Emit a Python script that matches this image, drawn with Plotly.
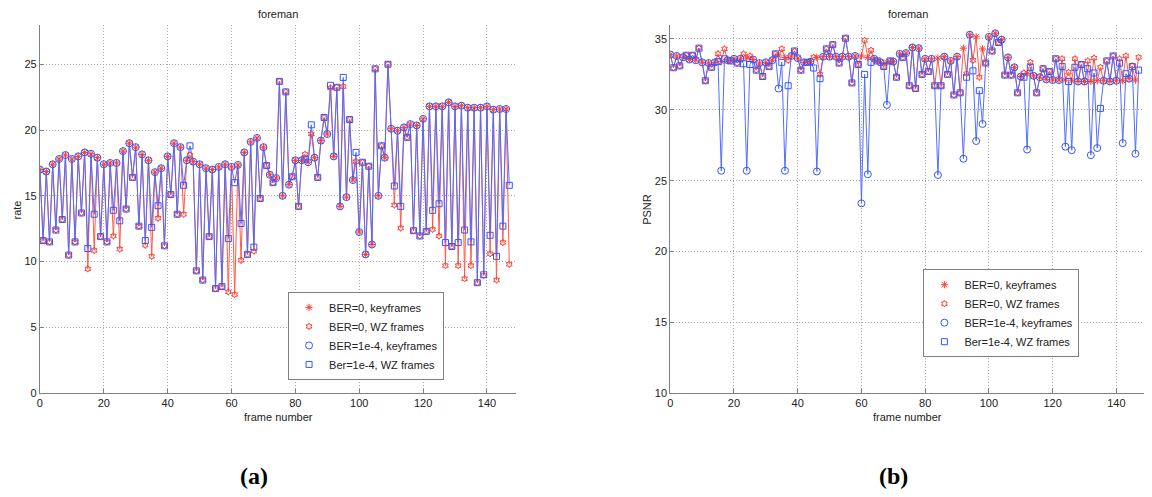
import plotly.graph_objects as go

# ---------------- data ----------------
frames = list(range(148))

rate_ber0 = [
    17.0, 11.6, 16.85, 11.5, 17.4, 12.4, 17.8, 13.2, 18.1, 10.5,
    17.8, 11.5, 18.0, 13.7, 18.3, 9.45, 18.2, 10.85, 17.9, 11.9,
    17.4, 11.5, 17.5, 11.95, 17.5, 10.95, 18.4, 14.0, 19.0, 16.4,
    18.7, 12.7, 18.15, 11.25, 17.7, 10.4, 16.8, 13.3, 17.1, 11.2,
    18.0, 15.1, 19.0, 13.6, 18.7, 13.6, 17.7, 18.1, 17.6, 9.3,
    17.4, 8.6, 17.1, 11.9, 17.0, 7.95, 17.2, 8.1, 17.4, 7.7,
    17.2, 7.5, 17.35, 10.1, 18.3, 10.55, 19.1, 10.8, 19.4, 14.8,
    18.7, 17.3, 16.6, 16.0, 16.35, 23.7, 15.0, 22.9, 15.85, 16.45,
    17.7, 14.2, 17.7, 18.15, 17.55, 19.7, 17.9, 16.4, 19.2, 20.95,
    19.7, 23.2, 18.0, 23.25, 14.2, 23.3, 14.9, 20.8, 16.2, 17.6,
    12.25, 17.55, 10.55, 17.25, 11.3, 24.65, 15.0, 18.8, 17.9, 25.0,
    20.1, 14.3, 19.95, 12.55, 20.2, 19.45, 20.45, 12.35, 20.35, 11.95,
    20.85, 12.3, 21.8, 12.45, 21.8, 11.95, 21.8, 9.7, 22.1, 11.15,
    21.8, 9.7, 21.85, 8.7, 21.7, 9.7, 21.7, 8.4, 21.7, 8.95,
    21.8, 10.6, 21.55, 8.6, 21.6, 11.45, 21.6, 9.8,
]

rate_ber1e4 = [
    17.0, 11.6, 16.85, 11.5, 17.4, 12.4, 17.8, 13.2, 18.1, 10.5,
    17.8, 11.5, 18.0, 13.7, 18.3, 11.0, 18.2, 13.6, 17.9, 11.9,
    17.4, 11.5, 17.5, 13.9, 17.5, 13.1, 18.4, 14.0, 19.0, 16.4,
    18.7, 12.7, 18.15, 11.6, 17.7, 12.6, 16.8, 14.25, 17.1, 11.2,
    18.0, 15.1, 19.0, 13.6, 18.7, 15.8, 17.7, 18.8, 17.6, 9.3,
    17.4, 8.6, 17.1, 11.9, 17.0, 7.95, 17.2, 8.1, 17.4, 11.75,
    17.2, 16.0, 17.35, 12.9, 18.3, 10.55, 19.1, 11.1, 19.4, 14.8,
    18.7, 17.3, 16.6, 16.0, 16.35, 23.7, 15.0, 22.9, 15.85, 16.45,
    17.7, 14.2, 17.7, 17.8, 17.55, 20.4, 17.9, 16.4, 19.2, 20.95,
    19.7, 23.4, 18.0, 23.25, 14.2, 24.0, 14.9, 20.8, 16.2, 18.3,
    12.25, 17.55, 10.55, 17.25, 11.3, 24.65, 15.0, 18.8, 17.9, 25.0,
    20.1, 15.75, 19.95, 14.2, 20.2, 19.45, 20.45, 12.35, 20.35, 11.95,
    20.85, 12.3, 21.8, 13.9, 21.8, 14.4, 21.8, 11.45, 22.1, 11.15,
    21.8, 11.45, 21.85, 12.4, 21.7, 11.5, 21.7, 8.4, 21.7, 9.0,
    21.8, 12.0, 21.55, 10.4, 21.6, 12.7, 21.6, 15.8,
]

psnr_ber0 = [
    33.9, 32.97, 33.8, 33.1, 33.7, 33.85, 33.55, 33.85, 33.5, 34.35,
    33.35, 32.05, 33.3, 33.0, 33.35, 33.95, 33.4, 34.3, 33.5, 33.45,
    33.6, 33.3, 33.6, 33.95, 33.65, 33.8, 33.55, 32.8, 33.3, 32.35,
    33.35, 33.05, 33.5, 33.95, 33.8, 34.3, 33.7, 33.5, 33.8, 34.15,
    33.65, 32.8, 33.35, 33.35, 33.4, 33.7, 33.7, 32.5, 33.75, 34.3,
    33.75, 34.6, 33.75, 33.3, 33.75, 35.05, 33.75, 31.9, 33.8, 33.2,
    33.8, 34.9, 33.7, 34.2, 33.6, 33.45, 33.35, 33.05, 33.35, 33.45,
    33.4, 32.3, 33.95, 33.7, 34.0, 31.7, 34.4, 31.5, 34.35, 32.5,
    33.6, 32.7, 33.6, 31.7, 33.65, 31.7, 33.75, 32.5, 33.45, 31.05,
    33.75, 31.2, 34.35, 32.55, 35.3, 33.5, 35.15, 32.3, 34.3, 33.3,
    35.15, 34.15, 35.4, 34.75, 34.95, 32.45, 33.7, 32.45, 33.0, 31.2,
    32.35, 32.6, 32.55, 33.35, 32.4, 31.2, 32.3, 32.9, 32.15, 32.7,
    32.1, 33.6, 32.1, 33.6, 32.1, 32.65, 32.05, 33.6, 32.0, 33.2,
    32.0, 33.45, 32.0, 33.65, 32.05, 33.0, 32.05, 33.45, 32.0, 33.8,
    32.05, 33.6, 32.05, 33.8, 32.2, 33.1, 32.1, 33.7,
]

psnr_ber1e4 = [
    33.9, 32.97, 33.8, 33.1, 33.7, 33.85, 33.55, 33.85, 33.5, 34.35,
    33.35, 32.05, 33.3, 33.0, 33.35, 33.4, 25.7, 33.6, 33.5, 33.45,
    33.6, 33.3, 33.6, 33.25, 25.7, 33.2, 33.55, 32.8, 33.3, 32.35,
    33.35, 33.05, 33.5, 33.95, 31.5, 33.35, 25.7, 31.7, 33.8, 34.15,
    33.65, 32.8, 33.35, 33.35, 33.4, 32.95, 25.65, 32.2, 33.75, 34.3,
    33.75, 34.6, 33.75, 33.3, 33.75, 35.05, 33.75, 31.9, 33.8, 33.2,
    23.4, 32.5, 25.45, 33.35, 33.6, 33.45, 33.35, 33.05, 30.35, 33.45,
    33.4, 32.3, 33.95, 33.7, 34.0, 31.7, 34.4, 31.5, 34.35, 32.5,
    33.6, 32.7, 33.6, 31.7, 25.4, 31.7, 33.75, 32.5, 33.45, 31.05,
    33.75, 31.2, 26.55, 32.3, 35.3, 32.75, 27.8, 31.35, 29.0, 33.3,
    35.15, 34.15, 35.4, 34.75, 34.95, 32.45, 33.7, 32.45, 33.0, 31.2,
    32.35, 32.3, 27.2, 33.0, 32.4, 31.2, 32.3, 32.9, 32.15, 32.7,
    32.1, 33.6, 32.1, 33.05, 27.4, 32.0, 27.15, 33.0, 32.0, 33.2,
    32.0, 32.9, 26.8, 32.6, 27.3, 30.1, 32.05, 33.45, 32.0, 33.8,
    32.05, 33.3, 27.65, 32.55, 32.2, 33.05, 26.9, 32.8,
]

x_ticks = [0, 20, 40, 60, 80, 100, 120, 140]
rate_ticks = [0, 5, 10, 15, 20, 25]
psnr_ticks = [10, 15, 20, 25, 30, 35]
legend_names = ["BER=0, keyframes", "BER=0, WZ frames",
                "BER=1e-4, keyframes", "Ber=1e-4, WZ frames"]

# keyframes are the even frames, Wyner-Ziv frames the odd ones
key_idx = frames[0::2]
wz_idx = frames[1::2]

# ---------------- styling ----------------
RED_LINE = "rgb(255,90,75)"
BLUE_LINE = "rgb(80,110,255)"
RED_MK = "rgb(255,60,45)"
BLUE_MK = "rgb(55,85,255)"
FONT = "Liberation Sans, Arial, Helvetica, sans-serif"

fig = go.Figure()


def add_panel(xa, ya, ber0, ber4, legend):
    common = dict(xaxis=xa, yaxis=ya, hoverinfo="skip")
    fig.add_trace(go.Scatter(x=frames, y=ber0, mode="lines",
                             line=dict(color=RED_LINE, width=1),
                             showlegend=False, **common))
    fig.add_trace(go.Scatter(x=frames, y=ber4, mode="lines",
                             line=dict(color=BLUE_LINE, width=1),
                             showlegend=False, **common))
    specs = [
        (ber0, key_idx, "asterisk-open", RED_MK, 6, legend_names[0]),
        (ber0, wz_idx, "hexagram-open", RED_MK, 5, legend_names[1]),
        (ber4, key_idx, "circle-open", BLUE_MK, 7, legend_names[2]),
        (ber4, wz_idx, "square-open", BLUE_MK, 6, legend_names[3]),
    ]
    for vals, idx, sym, col, sz, name in specs:
        fig.add_trace(go.Scatter(
            x=[frames[i] for i in idx], y=[vals[i] for i in idx],
            mode="markers", name=name, legend=legend,
            marker=dict(symbol=sym, size=sz, color=col,
                        line=dict(color=col, width=1)),
            **common))


add_panel("x", "y", rate_ber0, rate_ber1e4, "legend")
add_panel("x2", "y2", psnr_ber0, psnr_ber1e4, "legend2")

# the page body has an 8px margin: lay out in reference pixels minus 8
OFF = 8
W, H = 1152 - OFF, 497 - OFF


def px(x):
    return (x - OFF) / W


def py(y):
    return 1 - (y - OFF) / H


ydom = [py(398), py(25)]

axis_common = dict(
    showgrid=True, griddash="1px,2px", gridcolor="#a8a8a8", gridwidth=1,
    showline=True, linecolor="#808080", linewidth=1,
    ticks="inside", ticklen=4, tickcolor="#808080",
    zeroline=False, mirror=False,
    tickfont=dict(family=FONT, size=11, color="#222222"),
)

legend_common = dict(
    xanchor="center", yanchor="middle",
    bgcolor="white", bordercolor="#808080", borderwidth=1,
    font=dict(family=FONT, size=11, color="#222222"),
    tracegroupgap=0, itemwidth=30,
)

fig.update_layout(
    width=W, height=H,
    margin=dict(l=0, r=0, t=0, b=0),
    paper_bgcolor="white", plot_bgcolor="white",
    font=dict(family=FONT, size=11, color="#222222"),
    xaxis=dict(domain=[px(37), px(514)], range=[0, 149], tickvals=x_ticks,
               anchor="y", **axis_common),
    yaxis=dict(domain=ydom, range=[0, 28], tickvals=rate_ticks,
               anchor="x", **axis_common),
    xaxis2=dict(domain=[px(669), px(1145)], range=[0, 149], tickvals=x_ticks,
                anchor="y2", **axis_common),
    yaxis2=dict(domain=ydom, range=[10, 36], tickvals=psnr_ticks,
                anchor="x2", **axis_common),
    legend=dict(x=px(364), y=py(340), **legend_common),
    legend2=dict(x=px(1001), y=py(317), **legend_common),
)


def px_ann(text, x, y, size=11, angle=0, family=FONT, color="#222222"):
    fig.add_annotation(text=text, x=px(x), y=py(y), xref="paper",
                       yref="paper", showarrow=False, textangle=angle,
                       xanchor="center", yanchor="middle",
                       font=dict(family=family, size=size, color=color))


px_ann("foreman", 276, 14)
px_ann("foreman", 907, 14)
px_ann("frame number", 276, 422)
px_ann("frame number", 907, 422)
px_ann("rate", 15, 212, angle=-90)
px_ann("PSNR", 646, 212, angle=-90)
px_ann("<b>(a)</b>", 252, 482, size=24,
       family="Liberation Serif, Times New Roman, serif", color="#000000")
px_ann("<b>(b)</b>", 893, 482, size=24,
       family="Liberation Serif, Times New Roman, serif", color="#000000")

fig.write_html("out.html")
